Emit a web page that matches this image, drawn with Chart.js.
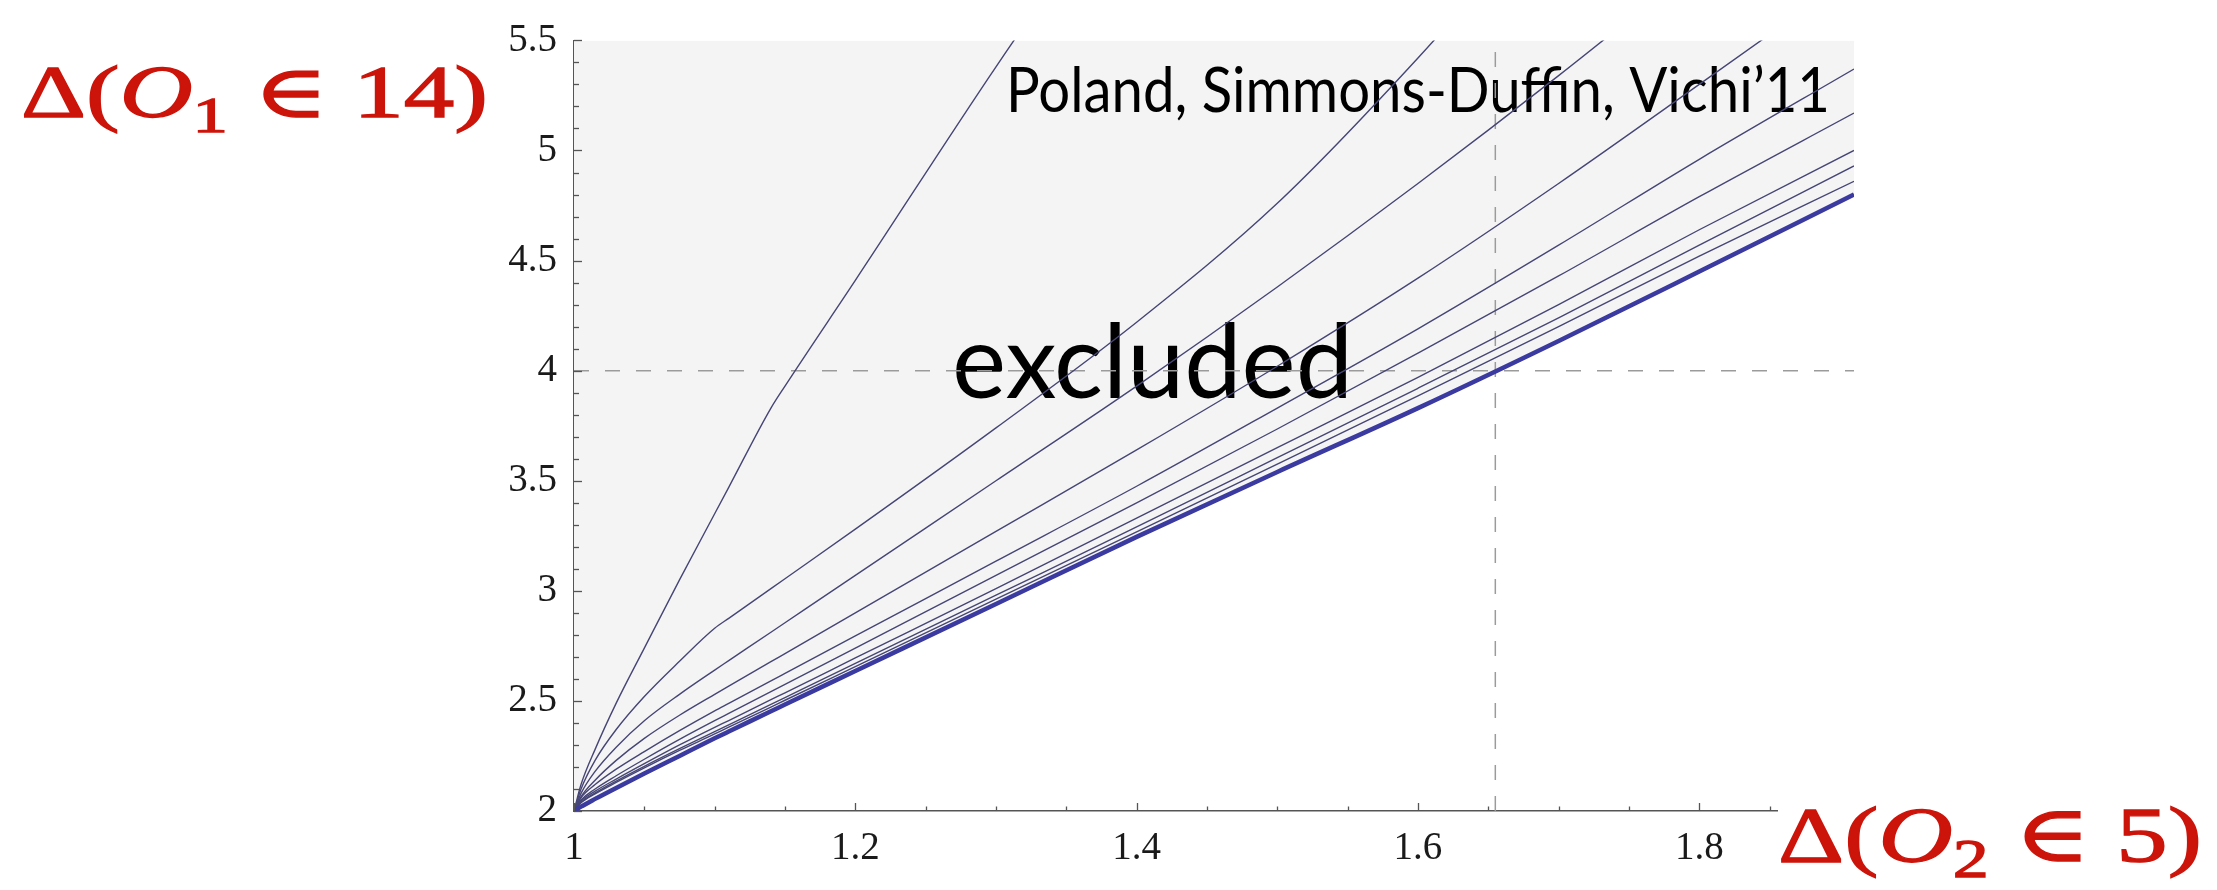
<!DOCTYPE html>
<html>
<head>
<meta charset="utf-8">
<script src="https://cdn.jsdelivr.net/npm/chart.js@4.4.0/dist/chart.umd.min.js"></script>
<style>
  html, body { margin: 0; padding: 0; background: #fff; }
  canvas { display: block; }
</style>
</head>
<body>
<canvas id="bound-canvas" width="2217" height="890"></canvas>
<script>
// Delta(O2 in 5) sample points, shared by every curve
let dimO2 = [1, 1.005, 1.015, 1.03, 1.05, 1.075, 1.1, 1.11, 1.14, 1.15, 1.2, 1.3, 1.4, 1.5, 1.6, 1.7, 1.8, 1.91];

// upper bounds on Delta(O1 in 14), weakest (steepest) first
let curve1 = [2, 2.12, 2.28, 2.49, 2.74, 3.05, 3.35, 3.47, 3.83, 3.93, 4.41, 5.38, 6.30, 7.20, 8.10, 9.00, 9.90, 10.90];
let curve2 = [2, 2.10, 2.23, 2.37, 2.52, 2.68, 2.83, 2.875, 3.01, 3.055, 3.28, 3.74, 4.22, 4.76, 5.42, 6.15, 6.90, 7.75];
let curve3 = [2, 2.08, 2.18, 2.29, 2.41, 2.53, 2.64, 2.683, 2.812, 2.855, 3.07, 3.50, 3.93, 4.38, 4.85, 5.34, 5.85, 6.40];
let curve4 = [2, 2.065, 2.14, 2.23, 2.33, 2.435, 2.53, 2.567, 2.678, 2.715, 2.90, 3.27, 3.64, 4.02, 4.42, 4.85, 5.30, 5.80];
let curve5 = [2, 2.06, 2.12, 2.19, 2.27, 2.365, 2.455, 2.489, 2.591, 2.625, 2.795, 3.135, 3.475, 3.83, 4.19, 4.57, 4.96, 5.37];
let curve6 = [2, 2.05, 2.10, 2.16, 2.235, 2.325, 2.41, 2.443, 2.542, 2.575, 2.74, 3.07, 3.40, 3.735, 4.08, 4.43, 4.79, 5.17];
let curve7 = [2, 2.045, 2.09, 2.145, 2.215, 2.30, 2.38, 2.411, 2.506, 2.537, 2.695, 3.01, 3.33, 3.65, 3.97, 4.30, 4.64, 5.00];
let curve8 = [2, 2.04, 2.082, 2.136, 2.203, 2.283, 2.36, 2.391, 2.484, 2.515, 2.67, 2.98, 3.29, 3.605, 3.92, 4.24, 4.57, 4.93];
let curve9 = [2, 2.037, 2.078, 2.13, 2.196, 2.275, 2.35, 2.381, 2.472, 2.503, 2.656, 2.962, 3.268, 3.575, 3.885, 4.20, 4.52, 4.86];
// strongest bound, everything above it is excluded
let bestBound = [2, 2.02, 2.055, 2.105, 2.17, 2.25, 2.33, 2.361, 2.453, 2.484, 2.636, 2.94, 3.245, 3.54, 3.83, 4.135, 4.45, 4.80];

// dashed guide lines
let guideX = 1.655;
let guideY = 4;

let xLabels = [1, 1.2, 1.4, 1.6, 1.8];
let yLabels = [2, 2.5, 3, 3.5, 4, 4.5, 5, 5.5];

let xMin = 1, xMax = 1.91, yMin = 2, yMax = 5.5;

function toPoints(ys) {
    return dimO2.map((x, i) => ({ x: x, y: ys[i] }));
}

function near(v, list) {
    return list.some(l => Math.abs(l - v) < 1e-6);
}

let thinColor = 'rgba(70, 70, 118, 1)';
let thinCurves = [curve1, curve2, curve3, curve4, curve5, curve6, curve7, curve8, curve9].map(c => ({
    data: toPoints(c),
    borderColor: thinColor,
    borderWidth: 1.4,
    pointRadius: 0,
    cubicInterpolationMode: 'monotone',
    fill: false
}));

let serif = "'Liberation Serif', 'DejaVu Serif', serif";

// ticks pointing into the plot, like the original
let innerTicks = {
    id: 'innerTicks',
    afterDraw(chart) {
        let ctx = chart.ctx;
        let area = chart.chartArea;
        let sx = chart.scales.x, sy = chart.scales.y;
        ctx.save();
        ctx.strokeStyle = '#555';
        ctx.lineWidth = 1.3;
        sx.ticks.forEach(t => {
            if (t.value > 1.86) return;
            let px = Math.round(sx.getPixelForValue(t.value)) + 0.5;
            let len = near(t.value, xLabels) ? 8 : 4.5;
            ctx.beginPath();
            ctx.moveTo(px, area.bottom);
            ctx.lineTo(px, area.bottom - len);
            ctx.stroke();
        });
        sy.ticks.forEach(t => {
            let py = Math.round(sy.getPixelForValue(t.value)) + 0.5;
            let len = near(t.value, yLabels) ? 8 : 5;
            ctx.beginPath();
            ctx.moveTo(area.left, py);
            ctx.lineTo(area.left + len, py);
            ctx.stroke();
        });
        ctx.restore();
    }
};

function mathFont(p, size) {
    return (p[1] === 'italic' ? 'italic ' : '') + (p[1] === 'sub' ? size * 0.7 : size) + 'px ' + serif;
}

function drawMath(ctx, parts, x, base, size, width) {
    let total = 0;
    parts.forEach(p => {
        ctx.font = mathFont(p, size);
        total += ctx.measureText(p[0]).width;
    });
    ctx.save();
    ctx.translate(x, base);
    ctx.scale(width / total, 1);
    let cx = 0;
    parts.forEach(p => {
        ctx.font = mathFont(p, size);
        let dy = p[1] === 'sub' ? size * 0.2 : 0;
        ctx.fillText(p[0], cx, dy);
        ctx.strokeText(p[0], cx, dy);
        cx += ctx.measureText(p[0]).width;
    });
    ctx.restore();
}

function drawFitted(ctx, text, x, base, font, width) {
    ctx.save();
    ctx.font = font;
    let w = ctx.measureText(text).width;
    ctx.translate(x, base);
    ctx.scale(width / w, 1);
    ctx.fillText(text, 0, 0);
    ctx.restore();
}

let annotations = {
    id: 'annotations',
    beforeDatasetsDraw(chart) {
        let ctx = chart.ctx;
        ctx.save();
        ctx.fillStyle = '#000';
        ctx.textBaseline = 'alphabetic';
        drawFitted(ctx, 'Poland, Simmons-Duffin, Vichi\u201911', 1006, 112, "62px Lato, 'Open Sans', sans-serif", 824);
        drawFitted(ctx, 'excluded', 952, 398, "102px Lato, 'Open Sans', sans-serif", 401);
        ctx.restore();
    },
    afterDraw(chart) {
        let ctx = chart.ctx;
        ctx.save();
        ctx.fillStyle = '#fff';
        ctx.fillRect(1778, 790, 2217 - 1778, 100);
        ctx.fillStyle = 'rgb(204, 20, 10)';
        ctx.strokeStyle = 'rgb(204, 20, 10)';
        ctx.lineWidth = 1.3;
        ctx.textBaseline = 'alphabetic';
        drawMath(ctx, [['\u0394(', ''], ['O', 'italic'], ['1', 'sub'], [' \u2208 14)', '']], 21, 117, 73, 467);
        drawMath(ctx, [['\u0394(', ''], ['O', 'italic'], ['2', 'sub'], [' \u2208 5)', '']], 1778, 861, 79, 424);
        ctx.restore();
    }
};

let boundCtx = document.getElementById('bound-canvas').getContext('2d');

let boundChart = new Chart(boundCtx, {
    type: 'line',
    data: {
        datasets: [
            {
                data: toPoints(bestBound),
                borderColor: 'rgba(58, 58, 160, 1)',
                borderWidth: 4.5,
                pointRadius: 0,
                cubicInterpolationMode: 'monotone',
                fill: 'end',
                backgroundColor: 'rgba(244, 244, 244, 1)'
            },
            ...thinCurves,
            {
                data: [{ x: xMin, y: guideY }, { x: xMax, y: guideY }],
                borderColor: 'rgba(155, 155, 155, 1)',
                borderWidth: 1.5,
                borderDash: [15, 16],
                pointRadius: 0,
                fill: false
            },
            {
                data: [{ x: guideX, y: yMin }, { x: guideX, y: yMax }],
                borderColor: 'rgba(155, 155, 155, 1)',
                borderWidth: 1.5,
                borderDash: [15, 16],
                pointRadius: 0,
                fill: false
            }
        ]
    },
    options: {
        responsive: false,
        animation: false,
        devicePixelRatio: 1,
        layout: {
            padding: { left: 0, right: 363, top: 23, bottom: 0 }
        },
        plugins: {
            legend: { display: false },
            tooltip: { enabled: false },
            filler: { drawTime: 'beforeDatasetsDraw' }
        },
        scales: {
            x: {
                type: 'linear',
                min: xMin,
                max: xMax,
                afterFit: s => { s.height = 79; },
                border: { color: '#555', width: 1.5 },
                grid: { display: false, drawTicks: false },
                ticks: {
                    stepSize: 0.05,
                    autoSkip: false,
                    maxRotation: 0,
                    padding: 14,
                    color: '#1a1a1a',
                    font: { family: serif, size: 39 },
                    callback: v => near(v, xLabels) ? String(Number(v.toFixed(2))) : ''
                }
            },
            y: {
                type: 'linear',
                min: yMin,
                max: yMax,
                afterFit: s => { s.width = 574; },
                border: { color: '#555', width: 1.5 },
                grid: { display: false, drawTicks: false },
                ticks: {
                    stepSize: 0.1,
                    autoSkip: false,
                    padding: 17,
                    color: '#1a1a1a',
                    font: { family: serif, size: 39 },
                    callback: v => near(v, yLabels) ? String(Number(v.toFixed(2))) : ''
                }
            }
        }
    },
    plugins: [innerTicks, annotations]
});
</script>
</body>
</html>
